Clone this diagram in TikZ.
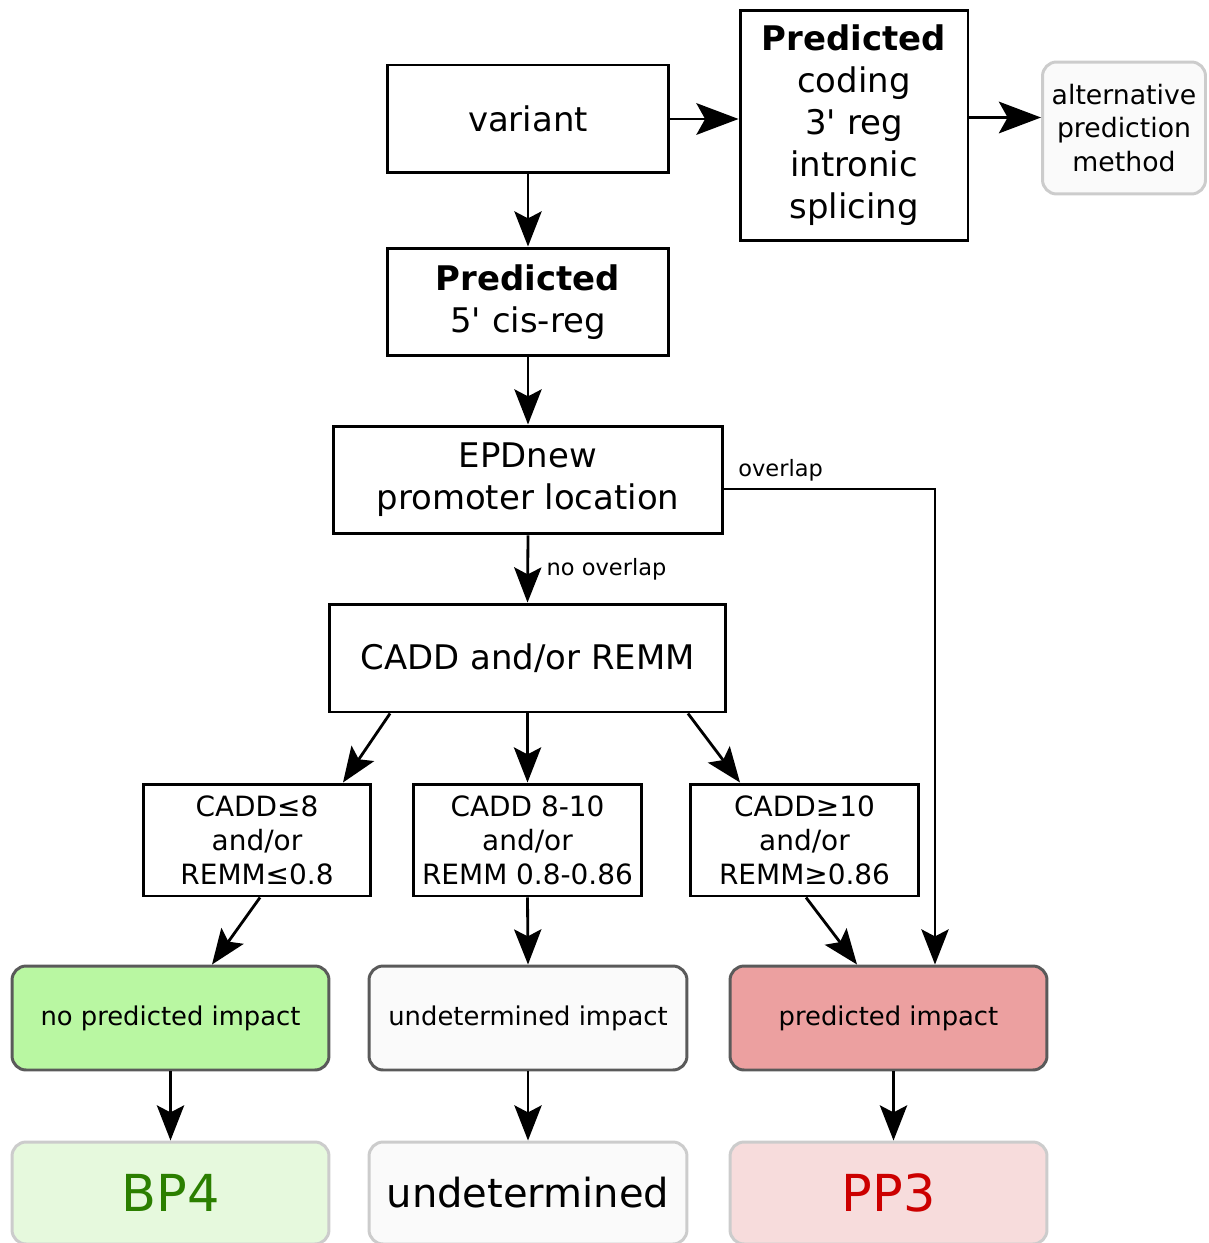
\documentclass[tikz,border=0pt]{standalone}
\usepackage{fontspec}
\setmainfont{DejaVu Sans}
\usetikzlibrary{arrows.meta,calc}
\definecolor{gfill}{HTML}{B9F7A2}
\definecolor{gpale}{HTML}{E6F9DD}
\definecolor{rfill}{HTML}{ECA0A0}
\definecolor{rpale}{HTML}{F7DCDC}
\definecolor{wfill}{HTML}{FAFAFA}
\definecolor{dborder}{HTML}{5A5A5A}
\definecolor{lborder}{HTML}{CCCCCC}
\definecolor{gtext}{HTML}{2B7F00}
\definecolor{rtext}{HTML}{CC0000}
\tikzset{
  box/.style={draw=black, line width=1.7pt, align=center, inner sep=0pt, font=\fontsize{19.3}{23.9}\selectfont},
  smallbox/.style={draw=black, line width=1.7pt, align=center, inner sep=0pt, font=\fontsize{15.9}{19.3}\selectfont},
  impact/.style={draw=dborder, line width=1.7pt, rounded corners=8pt, align=center, inner sep=0pt, font=\fontsize{14.7}{18}\selectfont},
  final/.style={draw=lborder, line width=1.7pt, rounded corners=8pt, align=center, inner sep=0pt},
  arr/.style={line width=1.6pt, -{Stealth[length=20pt,width=15.5pt,inset=4pt]}},
  bigarr/.style={line width=1.6pt, -{Stealth[length=24pt,width=18pt,inset=5pt]}},
  lbl/.style={inner sep=0pt, font=\fontsize{12.8}{15}\selectfont}
}
\begin{document}
\begin{tikzpicture}[x=0.02cm,y=-0.02cm]
\useasboundingbox (0,0) rectangle (1208,1243);
\node[box, minimum width=5.64cm, minimum height=2.16cm] (variant) at (528,119) {variant};
\node[box, minimum width=4.56cm, minimum height=4.62cm] (coding) at (854,125.5) {\textbf{Predicted}\\coding\\3\textquotesingle{} reg\\intronic\\splicing};
\node[final, fill=wfill, minimum width=3.26cm, minimum height=2.64cm, font=\fontsize{15.2}{19.3}\selectfont] (alt) at (1124,128) {alternative\\prediction\\method};
\node[box, minimum width=5.64cm, minimum height=2.16cm] (cis) at (528,302) {\textbf{Predicted}\\5\textquotesingle{} cis-reg};
\node[box, minimum width=7.8cm, minimum height=2.16cm] (epd) at (528,480) {EPDnew\\promoter location};
\node[box, minimum width=7.94cm, minimum height=2.16cm] (cadd) at (527.5,658) {CADD and/or REMM};
\node[smallbox, minimum width=4.56cm, minimum height=2.24cm] (c1) at (257,840) {CADD≤8\\and/or\\REMM≤0.8};
\node[smallbox, minimum width=4.58cm, minimum height=2.24cm] (c2) at (527.5,840) {CADD 8-10\\and/or\\REMM 0.8-0.86};
\node[smallbox, minimum width=4.58cm, minimum height=2.24cm] (c3) at (804.5,840) {CADD≥10\\and/or\\REMM≥0.86};
\node[impact, fill=gfill, minimum width=6.34cm, minimum height=2.08cm] (i1) at (170.5,1018) {no predicted impact};
\node[impact, fill=wfill, minimum width=6.36cm, minimum height=2.08cm] (i2) at (528,1018) {undetermined impact};
\node[impact, fill=rfill, minimum width=6.34cm, minimum height=2.08cm] (i3) at (888.5,1018) {predicted impact};
\node[final, fill=gpale, minimum width=6.34cm, minimum height=2.04cm, text=gtext, font=\fontsize{29}{34}\selectfont] (f1) at (170.5,1193) {BP4};
\node[final, fill=wfill, minimum width=6.36cm, minimum height=2.04cm, font=\fontsize{22.8}{26}\selectfont] (f2) at (528,1193) {undetermined};
\node[final, fill=rpale, minimum width=6.34cm, minimum height=2.04cm, text=rtext, font=\fontsize{29}{34}\selectfont] (f3) at (888.5,1193) {PP3};
% connectors
\draw[bigarr] (variant.east) -- (variant.east -| coding.west);
\draw[bigarr] ([yshift=0.16cm]coding.east) -- ([yshift=0.16cm]coding.east -| alt.west);
\draw[arr] (variant.south) -- (cis.north);
\draw[arr] (cis.south) -- (epd.north);
\draw[arr] (epd.south) -- node[lbl, right=10pt, pos=0.5] (nolap) {no overlap} (cadd.north);
\draw[arr] ([yshift=-0.18cm]epd.east) -| ([xshift=0.93cm]i3.north);
\node[lbl, anchor=south west] (olap) at (738,482) {overlap};
\draw[arr] ([xshift=-2.75cm]cadd.south) -- ([xshift=1.72cm]c1.north);
\draw[arr] (cadd.south) -- (c2.north);
\draw[arr] ([xshift=3.21cm]cadd.south) -- ([xshift=-1.29cm]c3.north);
\draw[arr] ([xshift=0.06cm]c1.south) -- ([xshift=0.83cm]i1.north);
\draw[arr] (c2.south) -- (i2.north);
\draw[arr] ([xshift=0.03cm]c3.south) -- ([xshift=-0.63cm]i3.north);
\draw[arr] (i1.south) -- (f1.north);
\draw[arr] (i2.south) -- (f2.north);
\draw[arr] ([xshift=0.1cm]i3.south) -- ([xshift=0.1cm]f3.north);
\end{tikzpicture}
\end{document}
